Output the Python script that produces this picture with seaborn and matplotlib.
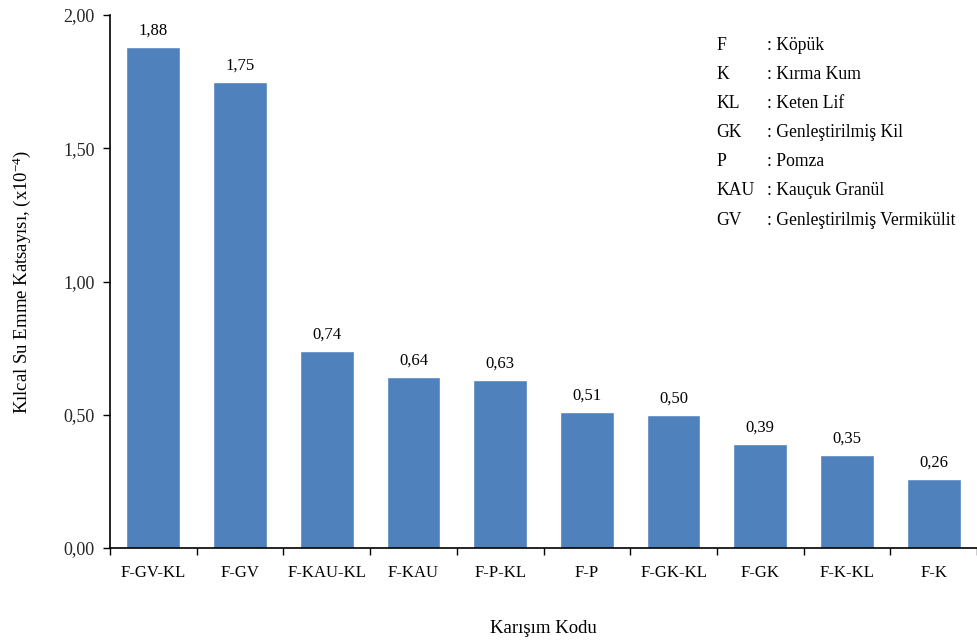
import matplotlib
matplotlib.use("Agg")
import matplotlib.pyplot as plt
import seaborn as sns
import pandas as pd
import numpy as np
from matplotlib.ticker import FixedLocator, FuncFormatter

categories = ["F-GV-KL", "F-GV", "F-KAU-KL", "F-KAU", "F-P-KL", "F-P", "F-GK-KL", "F-GK", "F-K-KL", "F-K"]
values = [1.88, 1.75, 0.74, 0.64, 0.63, 0.51, 0.50, 0.39, 0.35, 0.26]
legend_codes = ["F", "K", "KL", "GK", "P", "KAU", "GV"]
legend_names = ["Köpük", "Kırma Kum", "Keten Lif", "Genleştirilmiş Kil", "Pomza", "Kauçuk Granül", "Genleştirilmiş Vermikülit"]

sns.set_theme(style="white")
plt.rcParams['font.family'] = ['Liberation Serif', 'DejaVu Serif']
plt.rcParams['mathtext.fontset'] = 'custom'
plt.rcParams['mathtext.rm'] = 'Liberation Serif'
plt.rcParams['mathtext.it'] = 'Liberation Serif:italic'

df = pd.DataFrame({"kod": categories, "val": values})

fig = plt.figure(figsize=(9.78, 6.44), dpi=100)
ax = fig.add_axes([110/978, 96/644, 867/978, 533/644])

sns.barplot(data=df, x="kod", y="val", color="#4F81BD", saturation=1, width=0.62, ax=ax)

ax.set_xlim(-0.5, len(categories) - 0.5)
ax.set_ylim(0, 2.0)
ax.set_yticks([0, 0.5, 1.0, 1.5, 2.0])
ax.yaxis.set_major_formatter(FuncFormatter(lambda v, p: f"{v:.2f}".replace(".", ",")))

for i, v in enumerate(values):
    ax.annotate(f"{v:.2f}".replace(".", ","), (i, v), xytext=(0, 6), textcoords="offset points",
                ha="center", va="bottom", fontsize=12, color="black")

ax.xaxis.set_minor_locator(FixedLocator(np.arange(-0.5, len(categories), 1.0)))
ax.tick_params(axis="x", which="major", length=0, labelsize=12, pad=12, colors="black")
ax.tick_params(axis="x", which="minor", length=5, width=1, color="black", direction="out", bottom=True)
ax.tick_params(axis="y", which="major", length=5, width=1, color="black", direction="out", left=True, labelsize=13, pad=6)

for s in ["top", "right"]:
    ax.spines[s].set_visible(False)
for s in ["left", "bottom"]:
    ax.spines[s].set_color("black")
    ax.spines[s].set_linewidth(1.2)

ax.set_xlabel("Karışım Kodu", fontsize=13.5, color="black")
ax.xaxis.set_label_coords(0.5, -0.135)
ax.set_ylabel(r"Kılcal Su Emme Katsayısı, (x10$^{-4}$)", fontsize=13.5, color="black")
ax.yaxis.set_label_coords(-0.089, 0.5)

y0 = 45
for j, (c, n) in enumerate(zip(legend_codes, legend_names)):
    y = y0 + j * 29.2
    fig.text(716/978, 1 - y/644, c, fontsize=12.7, va="center", ha="left", color="black")
    fig.text(767/978, 1 - y/644, ": " + n, fontsize=12.7, va="center", ha="left", color="black")

fig.savefig("out.png", dpi=100)
